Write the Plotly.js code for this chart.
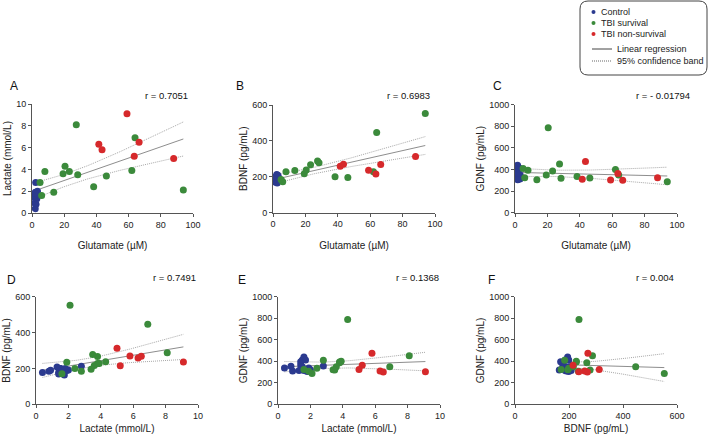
<!DOCTYPE html>
<html><head><meta charset="utf-8">
<script src="https://cdn.plot.ly/plotly-3.0.1.min.js"></script>
<style>html,body{margin:0;padding:0;background:#fff}</style>
</head><body><div id="chart" style="width:709px;height:434px"></div>
<script>
// ---------- data (one entry per subject) ----------
const groupNames = ['Control', 'TBI survival', 'TBI non-survival'];

const ctrlGlu  = [2.0, 2.5, 1.8, 3.0, 2.2, 1.5, 2.8, 1.6, 2.4, 3.2, 1.9, 2.6, 2.1, 3.4, 2.3, 1.7];
const ctrlLac  = [0.4, 0.8, 0.9, 1.3, 1.4, 1.4, 1.5, 1.6, 1.7, 1.5, 1.6, 1.75, 1.9, 2.0, 2.8, 1.8];
const ctrlBDNF = [178, 184, 190, 208, 177, 169, 199, 195, 186, 200, 186, 164, 188, 191, 212, 199];
const ctrlGDNF = [337, 353, 310, 313, 365, 396, 412, 440, 412, 350, 313, 319, 337, 320, 356, 305];

const survGlu  = [5.0, 6.0, 8.0, 13.5, 19.3, 20.5, 23.2, 27.5, 28.4, 38.3, 46.2, 62.0, 64.0, 94.0];
const survLac  = [2.8, 1.6, 3.8, 1.9, 3.6, 4.3, 3.8, 8.1, 3.5, 2.4, 3.4, 3.9, 6.9, 2.1];
const survBDNF = [184, 171, 227, 235, 216, 237, 266, 287, 278, 199, 196, 227, 447, 553];
const survGDNF = [410, 324, 392, 306, 349, 787, 386, 451, 318, 336, 321, 401, 349, 287];

const nsGlu  = [41.5, 43.5, 59.0, 63.5, 66.5, 88.0];
const nsLac  = [6.3, 5.8, 9.1, 5.2, 6.5, 5.0];
const nsBDNF = [258, 270, 236, 215, 268, 312];
const nsGDNF = [310, 475, 303, 364, 301, 324];

const rValues = ['r = 0.7051', 'r = 0.6983', 'r = - 0.01794', 'r = 0.7491', 'r = 0.1368', 'r = 0.004'];
const panelLetters = ['A', 'B', 'C', 'D', 'E', 'F'];

// ---------- assembly ----------
const vars = {
  glu:  [ctrlGlu, survGlu, nsGlu],
  lac:  [ctrlLac, survLac, nsLac],
  bdnf: [ctrlBDNF, survBDNF, nsBDNF],
  gdnf: [ctrlGDNF, survGDNF, nsGDNF]
};
const colors = ['#2b3a8f', '#3b8a3b', '#d6292b'];
const W = 709, H = 434;
const FONT = 'Liberation Sans, Arial, sans-serif';

const panels = [
  {x:'glu',  y:'lac',  xr:[0,100], yr:[0,10],   xdt:20,  ydt:2,   px:[32,193],  py:[104,213], xt:'Glutamate (µM)',  yt:'Lactate (mmol/L)', L:[8,86],   R:[190,95], so:13},
  {x:'glu',  y:'bdnf', xr:[0,100], yr:[0,600],  xdt:20,  ydt:200, px:[273,435], py:[105,212.5], xt:'Glutamate (µM)', yt:'BDNF (pg/mL)',     L:[234,86], R:[432,95], so:13},
  {x:'glu',  y:'gdnf', xr:[0,100], yr:[0,1000], xdt:20,  ydt:200, px:[515,677], py:[104.7,212.7], xt:'Glutamate (µM)', yt:'GDNF (pg/mL)',   L:[491,86], R:[692,95], so:13},
  {x:'lac',  y:'bdnf', xr:[0,10],  yr:[0,600],  xdt:2,   ydt:200, px:[36,198],  py:[296.7,404.3], xt:'Lactate (mmol/L)', yt:'BDNF (pg/mL)', L:[5,280],  R:[198,277], so:10},
  {x:'lac',  y:'gdnf', xr:[0,10],  yr:[0,1000], xdt:2,   ydt:200, px:[278,440], py:[296.7,404.3], xt:'Lactate (mmol/L)', yt:'GDNF (pg/mL)', L:[236,280], R:[441,277], so:10},
  {x:'bdnf', y:'gdnf', xr:[0,600], yr:[0,1000], xdt:200, ydt:200, px:[515,677], py:[296.7,404.3], xt:'BDNF (pg/mL)', yt:'GDNF (pg/mL)',     L:[486,280], R:[676,277], so:10}
];

function regression(xs, ys) {
  const n = xs.length;
  const mx = xs.reduce((a,b)=>a+b,0)/n, my = ys.reduce((a,b)=>a+b,0)/n;
  let sxx=0, sxy=0;
  for (let i=0;i<n;i++){ sxx+=(xs[i]-mx)**2; sxy+=(xs[i]-mx)*(ys[i]-my); }
  const b = sxy/sxx, a = my - b*mx;
  let sse=0; for (let i=0;i<n;i++){ sse+=(ys[i]-a-b*xs[i])**2; }
  const s = Math.sqrt(sse/(n-2));
  const t = 2.032;
  const xmin = Math.min(...xs), xmax = Math.max(...xs);
  const lx=[], ly=[], lu=[], ll=[];
  for (let k=0;k<=60;k++){
    const x = xmin + (xmax-xmin)*k/60;
    const yh = a + b*x;
    const se = s*Math.sqrt(1/n + (x-mx)**2/sxx);
    lx.push(x); ly.push(yh); lu.push(yh + t*se); ll.push(yh - t*se);
  }
  return {lx, ly, lu, ll};
}

const traces = [];
const layout = {
  width: W, height: H, margin:{l:0,r:0,t:0,b:0},
  paper_bgcolor:'#fff', plot_bgcolor:'#fff', showlegend:false,
  font:{family:FONT, size:9, color:'#222'},
  annotations:[], shapes:[]
};

panels.forEach((p, i) => {
  const sfx = i === 0 ? '' : String(i+1);
  const xa = 'x'+sfx, ya = 'y'+sfx;
  const xs = vars[p.x], ys = vars[p.y];
  const allX = [].concat(...xs), allY = [].concat(...ys);
  const reg = regression(allX, allY);
  traces.push({x:reg.lx, y:reg.lu, xaxis:xa, yaxis:ya, mode:'lines', line:{color:'#a8a8a8', width:1, dash:'1px,1px'}, hoverinfo:'skip'});
  traces.push({x:reg.lx, y:reg.ll, xaxis:xa, yaxis:ya, mode:'lines', line:{color:'#a8a8a8', width:1, dash:'1px,1px'}, hoverinfo:'skip'});
  traces.push({x:reg.lx, y:reg.ly, xaxis:xa, yaxis:ya, mode:'lines', line:{color:'#808080', width:0.9}, hoverinfo:'skip'});
  for (let g=0; g<3; g++) {
    traces.push({x:xs[g], y:ys[g], xaxis:xa, yaxis:ya, mode:'markers', name:groupNames[g],
      marker:{color:colors[g], size:7, line:{width:0}}});
  }
  const axCommon = {showline:true, linecolor:'#555', linewidth:1, ticks:'outside', ticklen:3, tickcolor:'#555',
    showgrid:false, zeroline:false, tickfont:{size:9, color:'#222', family:FONT}, fixedrange:true};
  layout['xaxis'+sfx] = Object.assign({}, axCommon, {
    domain:[p.px[0]/W, p.px[1]/W], range:p.xr, dtick:p.xdt, tick0:0, anchor:ya,
    title:{text:p.xt, font:{size:10, color:'#222', family:FONT}, standoff:p.so}
  });
  layout['yaxis'+sfx] = Object.assign({}, axCommon, {
    domain:[1-p.py[1]/H, 1-p.py[0]/H], range:p.yr, dtick:p.ydt, tick0:0, anchor:xa,
    title:{text:p.yt, font:{size:10, color:'#222', family:FONT}, standoff:2}
  });
  layout.annotations.push({text:panelLetters[i], xref:'paper', yref:'paper', x:p.L[0]/W, y:1-p.L[1]/H,
    xanchor:'left', yanchor:'middle', showarrow:false, font:{size:12, color:'#111', family:FONT}});
  layout.annotations.push({text:rValues[i], xref:'paper', yref:'paper', x:p.R[0]/W, y:1-p.R[1]/H,
    xanchor:'right', yanchor:'middle', showarrow:false, font:{size:9.5, color:'#111', family:FONT}});
});

// ---------- legend box (drawn) ----------
function X(px){return px/W;} function Y(py){return 1-py/H;}
const bx0=580, bx1=707, by0=1, by1=75, rr=8;
const path = `M ${X(bx0+rr)} ${Y(by0)} L ${X(bx1-rr)} ${Y(by0)} Q ${X(bx1)} ${Y(by0)} ${X(bx1)} ${Y(by0+rr)} ` +
  `L ${X(bx1)} ${Y(by1-rr)} Q ${X(bx1)} ${Y(by1)} ${X(bx1-rr)} ${Y(by1)} L ${X(bx0+rr)} ${Y(by1)} ` +
  `Q ${X(bx0)} ${Y(by1)} ${X(bx0)} ${Y(by1-rr)} L ${X(bx0)} ${Y(by0+rr)} Q ${X(bx0)} ${Y(by0)} ${X(bx0+rr)} ${Y(by0)} Z`;
layout.shapes.push({type:'path', xref:'paper', yref:'paper', path:path, line:{color:'#444', width:1}});
const legRows = [12, 23, 34];
groupNames.forEach((nm, g) => {
  const cy = legRows[g];
  layout.shapes.push({type:'circle', xref:'paper', yref:'paper', x0:X(591.5), x1:X(595.5), y0:Y(cy+2), y1:Y(cy-2),
    fillcolor:colors[g], line:{width:0}});
  layout.annotations.push({text:nm, xref:'paper', yref:'paper', x:X(599), y:Y(cy), xanchor:'left', yanchor:'middle',
    showarrow:false, font:{size:9, color:'#222', family:FONT}});
});
const lineRows = [{y:49, t:'Linear regression', dash:'solid', c:'#444'}, {y:61, t:'95% confidence band', dash:'1px,1px', c:'#666'}];
lineRows.forEach(r => {
  layout.shapes.push({type:'line', xref:'paper', yref:'paper', x0:X(592), x1:X(612), y0:Y(r.y), y1:Y(r.y),
    line:{color:r.c, width:1, dash:r.dash}});
  layout.annotations.push({text:r.t, xref:'paper', yref:'paper', x:X(615), y:Y(r.y), xanchor:'left', yanchor:'middle',
    showarrow:false, font:{size:9, color:'#222', family:FONT}});
});

Plotly.newPlot('chart', traces, layout, {displayModeBar:false, staticPlot:true});
</script>
</body></html>
